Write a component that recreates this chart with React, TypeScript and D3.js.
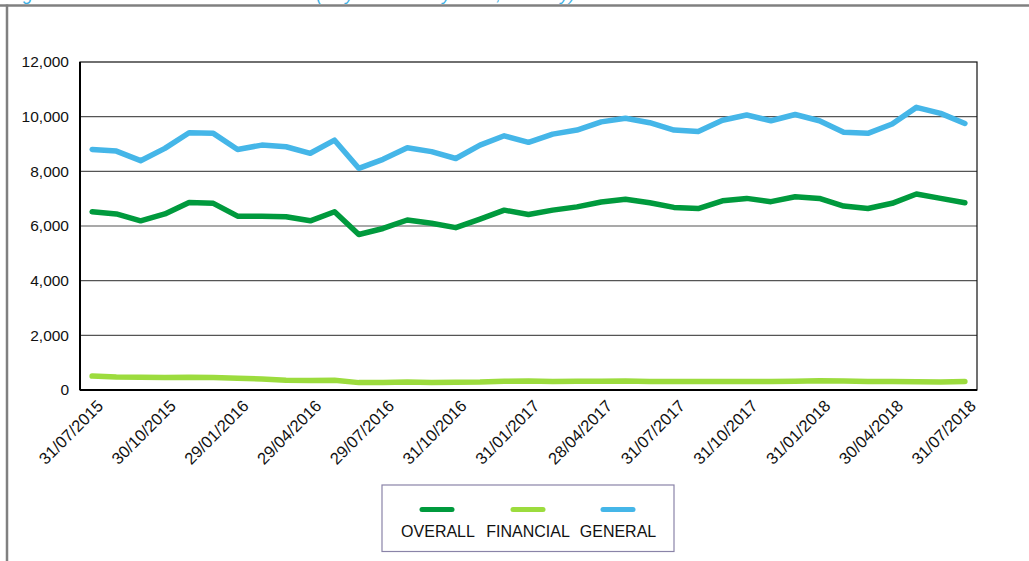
import React from "react";
import * as d3 from "d3";

const dates = [
  "31/07/2015","31/08/2015","30/09/2015","30/10/2015","30/11/2015","31/12/2015",
  "29/01/2016","29/02/2016","31/03/2016","29/04/2016","31/05/2016","30/06/2016",
  "29/07/2016","31/08/2016","30/09/2016","31/10/2016","30/11/2016","30/12/2016",
  "31/01/2017","28/02/2017","31/03/2017","28/04/2017","31/05/2017","30/06/2017",
  "31/07/2017","31/08/2017","29/09/2017","31/10/2017","30/11/2017","29/12/2017",
  "31/01/2018","28/02/2018","29/03/2018","30/04/2018","31/05/2018","29/06/2018",
  "31/07/2018",
];

const overall = [6520,6440,6190,6440,6860,6830,6360,6360,6340,6190,6520,5690,5910,6220,6100,5940,6250,6580,6420,6580,6700,6880,6980,6850,6680,6640,6920,7010,6890,7070,7010,6730,6640,6830,7170,7010,6850];
const financial = [510,480,470,460,470,460,430,400,360,350,360,270,270,290,270,280,290,320,330,310,320,320,330,310,310,310,310,310,310,320,340,330,310,310,300,290,310];
const general = [8800,8740,8390,8840,9410,9390,8800,8960,8900,8660,9140,8110,8440,8860,8720,8470,8960,9300,9060,9360,9510,9810,9940,9780,9510,9460,9870,10060,9850,10080,9850,9430,9390,9730,10340,10120,9750];

const yTicks = [0, 2000, 4000, 6000, 8000, 10000, 12000];
const seriesNames = ["OVERALL", "FINANCIAL", "GENERAL"];
const seriesColors = ["#009a3d", "#9cdc3e", "#45b6e8"];
const titleText = "Figure 3: Consumer sentiment indices (July 2015 – July 2018, monthly)";

export default function App() {
  const W = 1029, H = 561;
  const left = 80, right = 977, top = 62, bottom = 390;
  const x = d3.scalePoint<string>().domain(dates).range([left, right]).padding(0.5);
  const y = d3.scaleLinear().domain([0, 12000]).range([bottom, top]);
  const fmt = d3.format(",");
  const data = [overall, financial, general];
  const line = d3
    .line<number>()
    .x((_, i) => x(dates[i]) as number)
    .y((d) => y(d));
  const font = "Arial, 'Liberation Sans', sans-serif";

  return (
    <svg
      width={W}
      height={H}
      style={{ position: "absolute", left: 0, top: 0, background: "#fff" }}
      fontFamily={font}
    >
      <text x={8} y={-0.5} fill="#3db0e5" fontSize={18} fontStyle="italic">
        {titleText}
      </text>
      <line x1={0} x2={W} y1={5.5} y2={5.5} stroke="#808080" strokeWidth={2.5} />
      <line x1={7} x2={7} y1={4.5} y2={H} stroke="#808080" strokeWidth={2.5} />

      {yTicks.map((t) => (
        <g key={t}>
          {t > 0 && t < 12000 && (
            <line x1={left} x2={right} y1={y(t)} y2={y(t)} stroke="#555" strokeWidth={1.2} />
          )}
          <text x={69} y={y(t)} dy="0.35em" textAnchor="end" fontSize={15.5} fill="#111">
            {fmt(t)}
          </text>
        </g>
      ))}
      <rect x={left} y={top} width={right - left} height={bottom - top} fill="none" stroke="#111" strokeWidth={1.2} />
      <line x1={left} x2={right} y1={bottom} y2={bottom} stroke="#000" strokeWidth={2} />
      <line x1={left} x2={left} y1={top} y2={bottom} stroke="#000" strokeWidth={2} />

      {dates.map((d, i) =>
        i % 3 === 0 ? (
          <text
            key={d}
            transform={`translate(${(x(d) as number) + 8},${bottom + 13}) rotate(-45)`}
            textAnchor="end"
            dy="0.35em"
            fontSize={16.5}
            fill="#111"
          >
            {d}
          </text>
        ) : null
      )}

      {data.map((s, k) => (
        <path
          key={k}
          d={line(s) || ""}
          fill="none"
          stroke={seriesColors[k]}
          strokeWidth={5.5}
          strokeLinejoin="round"
          strokeLinecap="round"
        />
      ))}

      <rect x={382} y={485} width={292} height={66.5} fill="#fff" stroke="#8a84a8" strokeWidth={1.2} />
      {seriesNames.map((n, k) => {
        const lx = [437, 528, 618][k];
        const tx = [438, 528, 618][k];
        return (
          <g key={n}>
            <line x1={lx - 15} x2={lx + 15} y1={509.5} y2={509.5} stroke={seriesColors[k]} strokeWidth={5} strokeLinecap="round" />
            <text x={tx} y={531.5} dy="0.35em" textAnchor="middle" fontSize={16} fill="#111">
              {n}
            </text>
          </g>
        );
      })}
    </svg>
  );
}
